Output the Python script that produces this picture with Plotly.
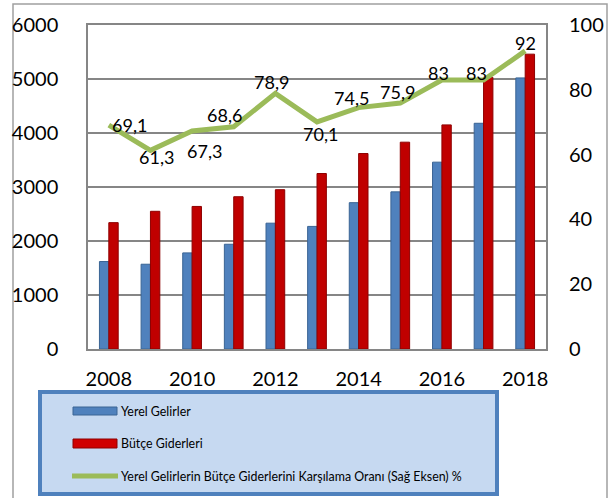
import plotly.graph_objects as go

years = [2008, 2009, 2010, 2011, 2012, 2013, 2014, 2015, 2016, 2017, 2018]
yerel_gelirler = [1620, 1570, 1780, 1940, 2330, 2270, 2710, 2910, 3460, 4180, 5020]
butce_giderleri = [2340, 2550, 2640, 2820, 2950, 3250, 3620, 3830, 4150, 5030, 5460]
karsilama_orani = [69.1, 61.3, 67.3, 68.6, 78.9, 70.1, 74.5, 75.9, 83, 83, 92]
oran_labels = ["69,1", "61,3", "67,3", "68,6", "78,9", "70,1", "74,5", "75,9", "83", "83", "92"]
# label offsets in px (x, y up) to mimic hand-placed excel labels
label_shift = [(21, 0), (6, -7), (12, -20), (-9, 12), (-4, 11), (3, -12),
               (-7, 10), (-3, 11), (-3, 7), (-7, 7), (0, 8)]

W, H = 612, 498
ML, MR, MT, MB = 88, 66, 25, 149
PW = W - ML - MR
PH = H - MT - MB
FONT = "Lato, Carlito, Calibri, sans-serif"
GRID = "#868686"


def px(x):
    return (x - ML) / PW


def py(y):
    return (H - MB - y) / PH


fig = go.Figure()

fig.add_bar(x=years, y=yerel_gelirler, name="Yerel Gelirler",
            marker=dict(color="#4F81BD", line=dict(color="#3A6494", width=1)))
fig.add_bar(x=years, y=butce_giderleri, name="Bütçe Giderleri",
            marker=dict(color="#C00000", line=dict(color="#8E0000", width=1)))
fig.add_scatter(x=years, y=karsilama_orani, yaxis="y2", mode="lines",
                name="Yerel Gelirlerin Bütçe Giderlerini Karşılama Oranı (Sağ Eksen) %",
                line=dict(color="#9BBB59", width=5))

for yr, v, t, (dx, dy) in zip(years, karsilama_orani, oran_labels, label_shift):
    fig.add_annotation(x=yr, y=v, yref="y2", text=t, showarrow=False,
                       xshift=dx, yshift=dy, font=dict(size=18, color="black", family=FONT))

shapes = []
# outer chart border
shapes.append(dict(type="rect", xref="paper", yref="paper",
                   x0=px(13), x1=px(607), y0=py(520), y1=py(4),
                   line=dict(color="#A0A0A0", width=1.5), layer="below"))
# legend box
shapes.append(dict(type="rect", xref="paper", yref="paper",
                   x0=px(40), x1=px(497), y0=py(494), y1=py(392),
                   fillcolor="#C6D9F1", line=dict(color="#4F81BD", width=4)))
# legend symbols
shapes.append(dict(type="rect", xref="paper", yref="paper",
                   x0=px(73), x1=px(117), y0=py(415), y1=py(407),
                   fillcolor="#4F81BD", line=dict(color="#3A6494", width=1)))
shapes.append(dict(type="rect", xref="paper", yref="paper",
                   x0=px(73), x1=px(117), y0=py(448), y1=py(439),
                   fillcolor="#D00000", line=dict(color="#8E0000", width=1)))
shapes.append(dict(type="line", xref="paper", yref="paper",
                   x0=px(72), x1=px(118), y0=py(476), y1=py(476),
                   line=dict(color="#9BBB59", width=5)))

leg_text = [("Yerel Gelirler", 411), ("Bütçe Giderleri", 443),
            ("Yerel Gelirlerin Bütçe Giderlerini Karşılama Oranı (Sağ Eksen) %", 476)]
for t, yy in leg_text:
    fig.add_annotation(xref="paper", yref="paper", x=px(119), y=py(yy), text=t,
                       showarrow=False, xanchor="left", yanchor="middle",
                       font=dict(size=12.4, color="black", family=FONT))

fig.update_layout(
    width=W, height=H,
    margin=dict(l=ML, r=MR, t=MT, b=MB),
    paper_bgcolor="white", plot_bgcolor="white",
    barmode="group", bargap=0.55, bargroupgap=0,
    showlegend=False,
    font=dict(family=FONT, color="black"),
    shapes=shapes,
    xaxis=dict(range=[2007.5, 2018.5], tickvals=[2008, 2010, 2012, 2014, 2016, 2018],
               showgrid=False, showline=True, linecolor=GRID, linewidth=1.5, mirror=True,
               ticks="", tickfont=dict(size=20), ticklabelstandoff=11, automargin=False),
    yaxis=dict(range=[0, 6000], dtick=1000, showgrid=True, gridcolor=GRID, gridwidth=1.5,
               showline=True, linecolor=GRID, linewidth=1.5, mirror=True, zeroline=False,
               ticks="", tickfont=dict(size=20), ticklabelstandoff=24, automargin=False),
    yaxis2=dict(range=[0, 100], dtick=20, overlaying="y", side="right", showgrid=False,
                zeroline=False, ticks="", tickfont=dict(size=20), ticklabelstandoff=22,
                automargin=False),
)

# page body has a default 8px margin; drop it so the figure sits at the corner
fig.write_html("out.html", config={"displayModeBar": False},
               post_script="document.body.style.margin='0';")
